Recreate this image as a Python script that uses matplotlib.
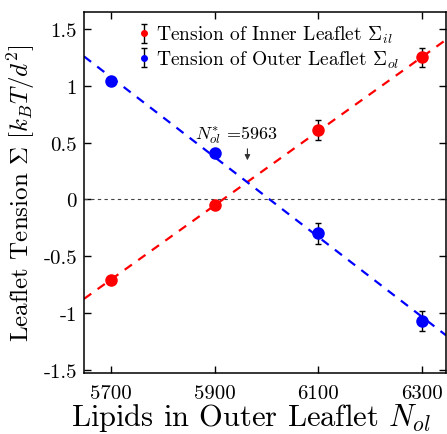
import numpy as np
import matplotlib
matplotlib.use("Agg")
import matplotlib.pyplot as plt

plt.rcParams['font.family'] = 'serif'
plt.rcParams['font.serif'] = ['cmr10']
plt.rcParams['mathtext.fontset'] = 'cm'
plt.rcParams['axes.unicode_minus'] = False

# data
n_ol = [5700, 5900, 6100, 6300]
sig_il = [-0.71, -0.05, 0.61, 1.25]
err_il = [0.03, 0.03, 0.09, 0.08]
sig_ol = [1.04, 0.41, -0.30, -1.07]
err_ol = [0.03, 0.03, 0.09, 0.09]

xticks = [5700, 5900, 6100, 6300]
yticks = [-1.5, -1, -0.5, 0, 0.5, 1, 1.5]
ytick_labels = ['-1.5', '-1', '-0.5', '0', '0.5', '1', '1.5']
n_star = 5963

fig = plt.figure(figsize=(4.47, 4.35), dpi=100)
ax = fig.add_axes([0.188, 0.140, 0.810, 0.830])

xl = (5648, 6346)
xx = np.array(xl)

# linear fits
p_il = np.polyfit(n_ol, sig_il, 1)
p_ol = np.polyfit(n_ol, sig_ol, 1)
ax.plot(xx, np.polyval(p_il, xx), '--', color='red', lw=1.6, dashes=(4, 3.5))
ax.plot(xx, np.polyval(p_ol, xx), '--', color='blue', lw=1.6, dashes=(4, 3.5))
ax.axhline(0, color='#444444', ls='--', lw=0.8, dashes=(3, 3))

ax.errorbar(n_ol, sig_il, yerr=err_il, fmt='o', color='red', ms=8,
            ecolor='black', elinewidth=1, capsize=2.5,
            label=r'Tension of Inner Leaflet $\Sigma_{il}$')
ax.errorbar(n_ol, sig_ol, yerr=err_ol, fmt='o', color='blue', ms=8,
            ecolor='black', elinewidth=1, capsize=2.5,
            label=r'Tension of Outer Leaflet $\Sigma_{ol}$')

ax.annotate('', xy=(n_star, 0.32), xytext=(n_star, 0.47),
            arrowprops=dict(arrowstyle='-|>', color='#333333', lw=0.8,
                            mutation_scale=8))
ax.text(5941, 0.57, r'$N_{ol}^{*}$ =5963', ha='center', va='center', fontsize=13)

ax.set_xlim(xl)
ax.set_ylim(-1.53, 1.65)
ax.set_xticks(xticks)
ax.set_xticklabels([str(t) for t in xticks])
ax.set_yticks(yticks)
ax.set_yticklabels(ytick_labels)
ax.tick_params(direction='in', top=True, right=True, labelsize=15, length=5, width=1)
ax.tick_params(axis='x', pad=8)
ax.tick_params(axis='y', pad=5)
for s in ax.spines.values():
    s.set_linewidth(1.1)

ax.set_xlabel(r'Lipids in Outer Leaflet $N_{ol}$', fontsize=22)
ax.xaxis.set_label_coords(0.46, -0.078)
ax.set_ylabel(r'Leaflet Tension $\Sigma$ $[k_BT/d^2]$', fontsize=18, labelpad=5)

ax.legend(loc='upper center', bbox_to_anchor=(0.51, 1.015), frameon=False, fontsize=14,
          handlelength=0.6, handletextpad=0.3, labelspacing=0.15, markerscale=0.5)

fig.savefig('out.png', dpi=100)
